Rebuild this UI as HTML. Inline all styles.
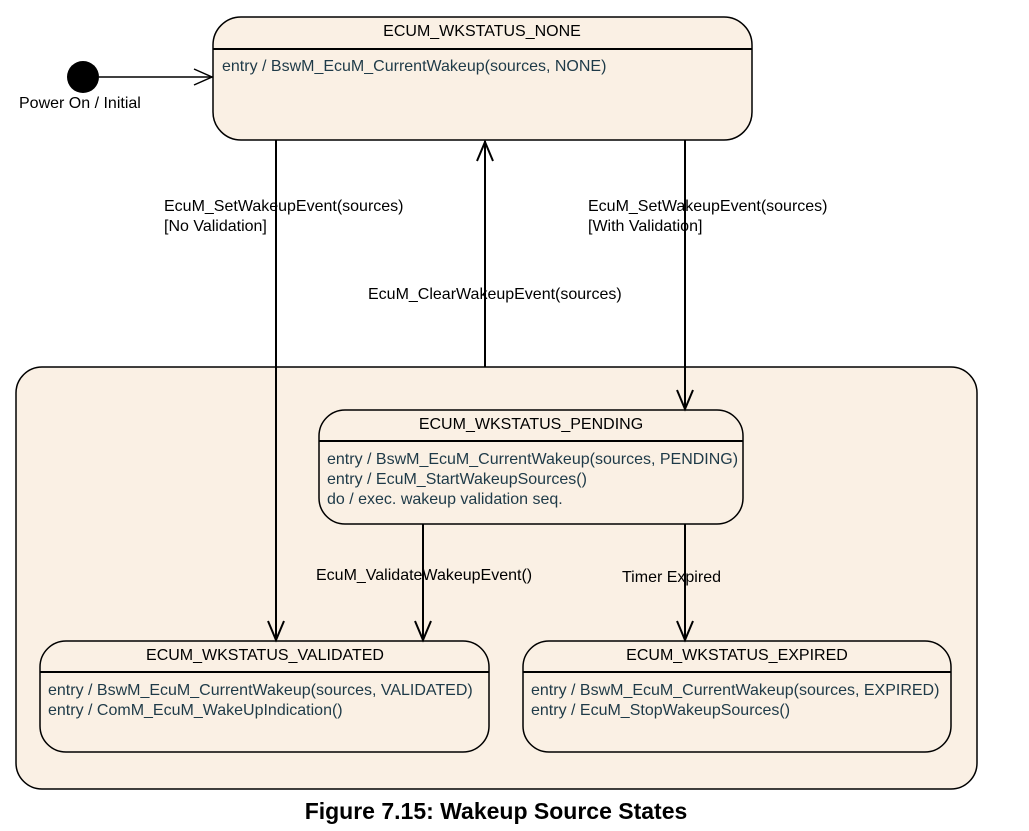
<!DOCTYPE html>
<html><head><meta charset="utf-8"><style>
html,body{margin:0;padding:0;background:#fff;}
svg{display:block;font-family:"Liberation Sans",Arial,sans-serif;}
.t{font-size:16px;fill:#000;}
.b{font-size:16px;fill:#1e3a48;}
</style></head><body>
<svg width="1029" height="831" viewBox="0 0 1029 831" xmlns="http://www.w3.org/2000/svg">
<rect x="16" y="367" width="961" height="422" rx="26" fill="#faf0e4" stroke="#000" stroke-width="1.5"/>
<rect x="213" y="17" width="539" height="123" rx="28" fill="#faf0e4" stroke="#000" stroke-width="1.5"/>
<line x1="213" y1="49" x2="752" y2="49" stroke="#000" stroke-width="2"/>
<text class="t" x="482" y="36" text-anchor="middle">ECUM_WKSTATUS_NONE</text>
<text class="b" x="222" y="71">entry / BswM_EcuM_CurrentWakeup(sources, NONE)</text>
<circle cx="83" cy="77" r="16" fill="#000"/>
<line x1="99" y1="77" x2="213" y2="77" stroke="#000" stroke-width="1.5"/>
<path d="M194,69 L212,77 L194,85" fill="none" stroke="#000" stroke-width="1.5"/>
<text class="t" x="19" y="108">Power On / Initial</text>
<rect x="319" y="410" width="424" height="114" rx="26" fill="#faf0e4" stroke="#000" stroke-width="1.5"/>
<line x1="319" y1="441" x2="743" y2="441" stroke="#000" stroke-width="2"/>
<text class="t" x="531" y="429" text-anchor="middle">ECUM_WKSTATUS_PENDING</text>
<text class="b" x="327" y="464">entry / BswM_EcuM_CurrentWakeup(sources, PENDING)</text>
<text class="b" x="327" y="484">entry / EcuM_StartWakeupSources()</text>
<text class="b" x="327" y="504">do / exec. wakeup validation seq.</text>
<rect x="40" y="641" width="449" height="111" rx="26" fill="#faf0e4" stroke="#000" stroke-width="1.5"/>
<line x1="40" y1="672" x2="489" y2="672" stroke="#000" stroke-width="2"/>
<text class="t" x="265" y="660" text-anchor="middle">ECUM_WKSTATUS_VALIDATED</text>
<text class="b" x="48" y="695">entry / BswM_EcuM_CurrentWakeup(sources, VALIDATED)</text>
<text class="b" x="48" y="715">entry / ComM_EcuM_WakeUpIndication()</text>
<rect x="523" y="641" width="428" height="111" rx="26" fill="#faf0e4" stroke="#000" stroke-width="1.5"/>
<line x1="523" y1="672" x2="951" y2="672" stroke="#000" stroke-width="2"/>
<text class="t" x="737" y="660" text-anchor="middle">ECUM_WKSTATUS_EXPIRED</text>
<text class="b" x="531" y="695">entry / BswM_EcuM_CurrentWakeup(sources, EXPIRED)</text>
<text class="b" x="531" y="715">entry / EcuM_StopWakeupSources()</text>
<g stroke="#000" stroke-width="2" fill="none">
<line x1="276" y1="140" x2="276" y2="641"/>
<path d="M268,621 L276,640 L284,621"/>
<line x1="485" y1="367" x2="485" y2="141"/>
<path d="M477,161 L485,142 L493,161"/>
<line x1="685" y1="140" x2="685" y2="410"/>
<path d="M677,390 L685,409 L693,390"/>
<line x1="423" y1="524" x2="423" y2="641"/>
<path d="M415,621 L423,640 L431,621"/>
<line x1="685" y1="524" x2="685" y2="641"/>
<path d="M677,621 L685,640 L693,621"/>
</g>
<text class="t" x="164" y="211">EcuM_SetWakeupEvent(sources)</text>
<text class="t" x="164" y="231">[No Validation]</text>
<text class="t" x="588" y="211">EcuM_SetWakeupEvent(sources)</text>
<text class="t" x="588" y="231">[With Validation]</text>
<text class="t" x="368" y="299">EcuM_ClearWakeupEvent(sources)</text>
<text class="t" x="316" y="580">EcuM_ValidateWakeupEvent()</text>
<text class="t" x="622" y="582">Timer Expired</text>
<text x="496" y="819" text-anchor="middle" style="font-size:23px;font-weight:bold">Figure 7.15: Wakeup Source States</text>
</svg>
</body></html>
